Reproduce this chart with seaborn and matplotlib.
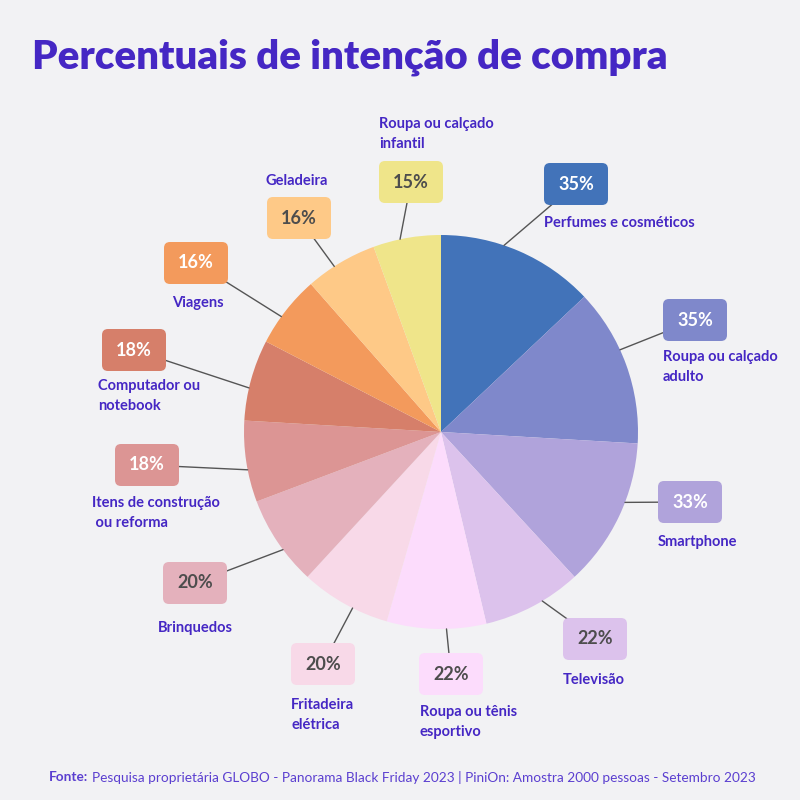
import numpy as np
import matplotlib
matplotlib.use("Agg")
import matplotlib.pyplot as plt
from matplotlib.patches import FancyBboxPatch
import seaborn as sns

# data, clockwise from the top
categorias = ["Perfumes e cosméticos", "Roupa ou calçado\nadulto", "Smartphone", "Televisão",
              "Roupa ou tênis\nesportivo", "Fritadeira\nelétrica", "Brinquedos",
              "Itens de construção\n ou reforma", "Computador ou\nnotebook", "Viagens",
              "Geladeira", "Roupa ou calçado\ninfantil"]
percentuais = [35, 35, 33, 22, 22, 20, 20, 18, 18, 16, 16, 15]
cores = ["#4273b9", "#7f88cb", "#b0a3db", "#dcc2ec", "#fcdcfc", "#f8d9e8",
         "#e4b1bc", "#dc9594", "#d67f6a", "#f39a5c", "#fec987", "#efe58a"]
texto_claro = [True, True, True, False, False, False, False, True, True, True, False, False]

# layout (pixel coords of the 800x800 image, y down)
caixas = [(576, 184), (695, 320), (690, 502), (595, 639), (451, 674), (323, 664),
          (195, 583), (147, 465), (134, 350), (196, 263), (299, 218), (411, 182)]
rotulos = [(544, 221), (663, 355), (658, 540), (563, 678), (420, 710), (291, 703),
           (158, 626), (92, 501), (98, 384), (172, 301), (266, 179), (379, 122)]

BG = "#f2f2f4"
ROXO = "#4527c4"
sns.set_theme(style="white")
plt.rcParams["font.family"] = ["Lato", "DejaVu Sans"]

fig = plt.figure(figsize=(8, 8), dpi=100, facecolor=BG)
ax = fig.add_axes([0, 0, 1, 1])
ax.set_facecolor(BG)

def Y(y):
    return 800 - y

cx, cy, R = 441, Y(432), 197
wedges, _ = ax.pie(percentuais, colors=sns.color_palette(cores), startangle=90,
                   counterclock=False, center=(cx, cy), radius=R,
                   wedgeprops=dict(linewidth=0))
ax.set_xlim(0, 800)
ax.set_ylim(0, 800)
ax.set_aspect("equal")
ax.axis("off")

for i, w in enumerate(wedges):
    # anchor point on the wedge rim
    a = np.deg2rad(w.theta2 - 0.4 * (w.theta2 - w.theta1))
    px, py = cx + R * np.cos(a), cy + R * np.sin(a)
    bx, by = caixas[i]
    ax.plot([px, bx], [py, Y(by)], color="#555555", lw=1, zorder=3)
    box = FancyBboxPatch((bx - 28, Y(by) - 17), 56, 34,
                         boxstyle="round,pad=4,rounding_size=6",
                         fc=cores[i], ec="none", zorder=4)
    ax.add_patch(box)
    ax.text(bx, Y(by), f"{percentuais[i]}%", ha="center", va="center",
            fontsize=13, fontweight="bold",
            color="white" if texto_claro[i] else "#4d4d4d", zorder=5)
    lx, ly = rotulos[i]
    ax.text(lx, Y(ly) + 5, categorias[i], ha="left", va="top", fontsize=10.5,
            fontweight="bold", color=ROXO, linespacing=1.55, zorder=5)

fig.text(32 / 800, Y(57) / 800, "Percentuais de intenção de compra", ha="left",
         va="center", fontsize=29, fontweight="heavy", color=ROXO)

fig.text(88 / 800, Y(777) / 800, "Fonte:", ha="right", va="center", fontsize=9.8,
         fontweight="bold", color="#5b3fd0")
fig.text(92 / 800, Y(777) / 800,
         "Pesquisa proprietária GLOBO - Panorama Black Friday 2023 | PiniOn: Amostra 2000 pessoas - Setembro 2023",
         ha="left", va="center", fontsize=9.8, color="#5b3fd0")

fig.savefig("out.png", dpi=100, facecolor=BG)
